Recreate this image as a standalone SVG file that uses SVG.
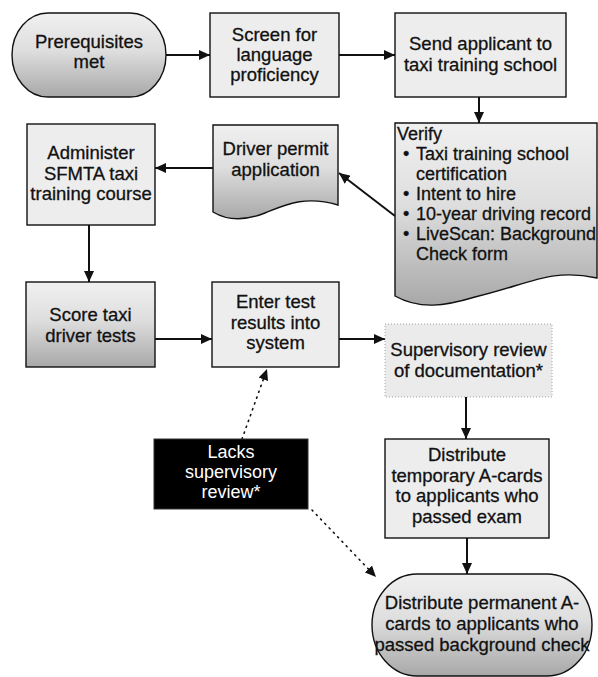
<svg xmlns="http://www.w3.org/2000/svg" width="598" height="677" viewBox="0 0 598 677">
  <style>
    .box { fill: #ededed; stroke: #111; stroke-width: 1.4; }
    .shade { fill: url(#shadeFill); stroke: #111; stroke-width: 1.4; }
    .dotbox { fill: #ebebeb; stroke: #9a9a9a; stroke-width: 0.9; stroke-dasharray: 1 2; }
    .dark { fill: #000; stroke: #333; stroke-width: 1; }
    .lbl { font-family: "Liberation Sans", Arial, sans-serif; font-size: 18.5px; fill: #111; stroke: #111; stroke-width: 0.3; text-anchor: middle; }
    .left { text-anchor: start; font-size: 18px; }
    .inv { fill: #fff; stroke: none; font-size: 18px; }
    .flow { fill: none; stroke: #111; stroke-width: 2; marker-end: url(#head); }
    .dots { fill: none; stroke: #111; stroke-width: 1.6; stroke-dasharray: 1.2 5; stroke-linecap: round; marker-end: url(#head); }
  </style>
  <defs>
    <linearGradient id="shadeFill" x1="0" y1="0" x2="0" y2="1">
      <stop offset="0" stop-color="#f0f0f0"/>
      <stop offset="0.45" stop-color="#dedede"/>
      <stop offset="1" stop-color="#a8a8a8"/>
    </linearGradient>
    <marker id="head" markerUnits="userSpaceOnUse" markerWidth="12" markerHeight="10" refX="11" refY="5" orient="auto">
      <path d="M0,0 L11,5 L0,10 Z" fill="#111"/>
    </marker>
  </defs>

  <!-- connectors -->
  <g id="connectors">
    <path class="flow" d="M166,55 H210"/>
    <path class="flow" d="M339,55 H395"/>
    <path class="flow" d="M479,97 V123"/>
    <path class="flow" d="M395,216 L339,173"/>
    <path class="flow" d="M213,168 H155"/>
    <path class="flow" d="M89,225 V282"/>
    <path class="flow" d="M155,339 H212"/>
    <path class="flow" d="M339,339 H385"/>
    <path class="flow" d="M466,397 V439"/>
    <path class="flow" d="M467,538 V574"/>
    <path class="dots" d="M242,439 L267,369"/>
    <path class="dots" d="M312,510 L376,577"/>
  </g>

  <g id="prerequisites">
    <rect class="shade" x="12" y="13" width="154" height="84" rx="36" ry="42"/>
    <text class="lbl" x="89" y="47.5">Prerequisites</text>
    <text class="lbl" x="89" y="68">met</text>
  </g>

  <g id="screen">
    <rect class="box" x="210" y="13" width="129" height="84"/>
    <text class="lbl" x="274.5" y="41">Screen for</text>
    <text class="lbl" x="274.5" y="61">language</text>
    <text class="lbl" x="274.5" y="81">proficiency</text>
  </g>

  <g id="send-to-school">
    <rect class="box" x="395" y="13" width="171" height="84"/>
    <text class="lbl" x="480.5" y="50">Send applicant to</text>
    <text class="lbl" x="480.5" y="71">taxi training school</text>
  </g>

  <g id="verify">
    <path class="shade" d="M395,123 H597 V278 C550,268 530,284 475,297 C445,306 420,310 395,296 Z"/>
    <text class="lbl left" x="397" y="140">Verify</text>
    <text class="lbl left" x="403" y="160">•</text>
    <text class="lbl left" x="416" y="160">Taxi training school</text>
    <text class="lbl left" x="416" y="180">certification</text>
    <text class="lbl left" x="403" y="200">•</text>
    <text class="lbl left" x="416" y="200">Intent to hire</text>
    <text class="lbl left" x="403" y="220">•</text>
    <text class="lbl left" x="416" y="220">10-year driving record</text>
    <text class="lbl left" x="403" y="240">•</text>
    <text class="lbl left" x="416" y="240">LiveScan: Background</text>
    <text class="lbl left" x="416" y="260">Check form</text>
  </g>

  <g id="permit-application">
    <path class="shade" d="M213,125 H338 V205 C305,195 285,205 265,213 C245,221 228,221 213,212 Z"/>
    <text class="lbl" x="275.5" y="155">Driver permit</text>
    <text class="lbl" x="275.5" y="176">application</text>
  </g>

  <g id="administer-course">
    <rect class="box" x="27" y="124" width="128" height="101"/>
    <text class="lbl" x="91" y="159">Administer</text>
    <text class="lbl" x="91" y="180">SFMTA taxi</text>
    <text class="lbl" x="91" y="200">training course</text>
  </g>

  <g id="score-tests">
    <rect class="shade" x="26" y="282" width="129" height="85"/>
    <text class="lbl" x="90.5" y="321">Score taxi</text>
    <text class="lbl" x="90.5" y="342">driver tests</text>
  </g>

  <g id="enter-results">
    <rect class="box" x="212" y="282" width="127" height="85"/>
    <text class="lbl" x="275.5" y="308">Enter test</text>
    <text class="lbl" x="275.5" y="328.5">results into</text>
    <text class="lbl" x="275.5" y="349">system</text>
  </g>

  <g id="supervisory-review">
    <rect class="dotbox" x="385" y="324" width="167" height="73"/>
    <text class="lbl" x="468.5" y="355.5">Supervisory review</text>
    <text class="lbl" x="468.5" y="376.5">of documentation*</text>
  </g>

  <g id="temporary-cards">
    <rect class="box" x="385" y="439" width="164" height="99"/>
    <text class="lbl" x="467" y="461">Distribute</text>
    <text class="lbl" x="467" y="481.5">temporary A-cards</text>
    <text class="lbl" x="467" y="502">to applicants who</text>
    <text class="lbl" x="467" y="522.5">passed exam</text>
  </g>

  <g id="permanent-cards">
    <rect class="shade" x="372" y="574" width="220" height="102" rx="45" ry="51"/>
    <text class="lbl" x="482" y="609">Distribute permanent A-</text>
    <text class="lbl" x="482" y="630">cards to applicants who</text>
    <text class="lbl" x="482" y="651">passed background check</text>
  </g>

  <g id="lacks-review">
    <rect class="dark" x="154" y="439" width="154" height="70"/>
    <text class="lbl inv" x="231" y="458">Lacks</text>
    <text class="lbl inv" x="231" y="478">supervisory</text>
    <text class="lbl inv" x="231" y="498">review*</text>
  </g>
</svg>
